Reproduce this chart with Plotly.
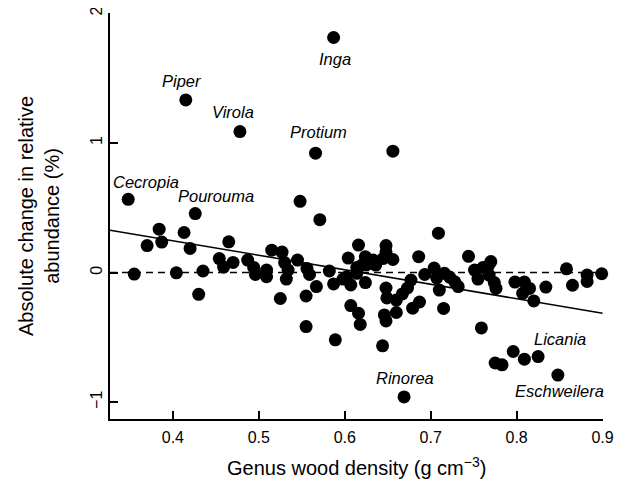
import plotly.graph_objects as go

# Genus wood density (g cm-3) and absolute change in relative abundance (%)
wood_density = [
    0.348, 0.355, 0.370, 0.384, 0.387, 0.404, 0.413, 0.415, 0.420, 0.426,
    0.430, 0.435, 0.454, 0.459, 0.465, 0.470, 0.478, 0.487, 0.494, 0.496,
    0.509, 0.509, 0.515, 0.527, 0.530, 0.534, 0.532, 0.525, 0.545, 0.548,
    0.556, 0.559, 0.555, 0.555, 0.567, 0.566, 0.571, 0.582, 0.587, 0.587,
    0.589, 0.598, 0.602, 0.607, 0.604, 0.607, 0.616, 0.616, 0.618, 0.614,
    0.614, 0.620, 0.624, 0.625, 0.633, 0.624, 0.636, 0.645, 0.648, 0.648,
    0.656, 0.648, 0.649, 0.646, 0.648, 0.644, 0.656, 0.660, 0.660, 0.667,
    0.673, 0.677, 0.679, 0.687, 0.669, 0.686, 0.693, 0.704, 0.707, 0.710,
    0.709, 0.716, 0.715, 0.722, 0.728, 0.732, 0.744, 0.751, 0.755, 0.761,
    0.770, 0.767, 0.768, 0.774, 0.776, 0.759, 0.775, 0.783, 0.796, 0.798,
    0.809, 0.807, 0.815, 0.820, 0.809, 0.825, 0.834, 0.848, 0.858, 0.865,
    0.882, 0.882, 0.899,
]
abundance_change = [
    0.565, -0.012, 0.208, 0.335, 0.235, -0.002, 0.309, 1.332, 0.186, 0.455,
    -0.168, 0.012, 0.108, 0.042, 0.237, 0.078, 1.088, 0.096, 0.040, -0.015,
    0.019, -0.032, 0.173, 0.158, 0.077, 0.019, -0.050, -0.200, 0.096, 0.550,
    0.032, -0.015, -0.181, -0.417, -0.108, 0.921, 0.408, 0.012, -0.088, 1.814,
    -0.519, -0.050, -0.035, -0.096, 0.112, -0.255, 0.212, -0.314, -0.400, 0.040,
    -0.006, 0.058, 0.122, 0.060, 0.096, -0.077, 0.058, 0.109, 0.208, 0.160,
    0.101, -0.119, -0.196, -0.327, -0.373, -0.565, 0.937, -0.212, -0.308, -0.165,
    -0.119, -0.058, -0.275, -0.227, -0.960, 0.123, -0.015, 0.035, -0.042, -0.135,
    0.304, -0.006, -0.277, -0.035, -0.071, -0.108, 0.125, 0.019, -0.050, 0.040,
    0.085, 0.050, -0.019, -0.077, -0.122, -0.427, -0.698, -0.712, -0.609, -0.073,
    -0.073, -0.160, -0.122, -0.219, -0.668, -0.648, -0.112, -0.791, 0.029, -0.098,
    -0.019, -0.069, -0.009,
]

# Fitted regression line (endpoints)
fit_x = [0.3268, 0.9]
fit_y = [0.327, -0.314]

# Genus labels and their positions
genus_names = ["Piper", "Virola", "Protium", "Cecropia", "Pourouma",
               "Inga", "Rinorea", "Licania", "Eschweilera"]
genus_label_x = [0.410, 0.470, 0.570, 0.369, 0.450, 0.589, 0.670, 0.850, 0.850]
genus_label_y = [1.481, 1.237, 1.088, 0.698, 0.588, 1.648, -0.814, -0.514, -0.917]

x_ticks = [0.4, 0.5, 0.6, 0.7, 0.8, 0.9]
x_tick_text = ["0.4", "0.5", "0.6", "0.7", "0.8", "0.9"]
y_ticks = [-1, 0, 1, 2]
y_tick_text = ["\u22121", "0", "1", "2"]

FONT = "Liberation Sans, Arial, Helvetica, sans-serif"

fig = go.Figure()

fig.add_trace(go.Scatter(
    x=fit_x, y=fit_y, mode="lines",
    line=dict(color="black", width=1.6),
    hoverinfo="skip", showlegend=False,
))

fig.add_trace(go.Scatter(
    x=wood_density, y=abundance_change, mode="markers",
    marker=dict(color="black", size=13, line=dict(width=0)),
    cliponaxis=False, showlegend=False,
))

fig.add_shape(type="line", xref="paper", x0=0, x1=1, yref="y", y0=0, y1=0,
              line=dict(color="black", width=1.5, dash="7px,5px"), layer="below")

for name, lx, ly in zip(genus_names, genus_label_x, genus_label_y):
    fig.add_annotation(x=lx, y=ly, xref="x", yref="y", text=name,
                       showarrow=False, xanchor="center", yanchor="middle",
                       font=dict(family=FONT, size=16.5, color="black", style="italic"))

# Axis titles
fig.add_annotation(xref="paper", yref="paper", x=-0.144, y=0.5,
                   text="Absolute change in relative<br>abundance (%)",
                   textangle=-90, showarrow=False, xanchor="center", yanchor="middle",
                   font=dict(family=FONT, size=20, color="black"))
fig.add_annotation(xref="paper", yref="paper", x=0.5, y=-0.118,
                   text="Genus wood density (g cm<sup>\u22123</sup>)",
                   showarrow=False, xanchor="center", yanchor="middle",
                   font=dict(family=FONT, size=20, color="black"))

fig.update_xaxes(
    range=[0.3268, 0.9005], tickvals=x_ticks, ticktext=x_tick_text,
    showline=True, linecolor="black", linewidth=1.5, mirror=False,
    ticks="inside", ticklen=8, tickwidth=1.5, tickcolor="black",
    showgrid=False, zeroline=False, ticklabelstandoff=3,
    ticklabeloverflow="allow", automargin=False,
    tickfont=dict(family=FONT, size=16, color="black"),
)
fig.update_yaxes(
    range=[-1.13, 2.003], tickvals=y_ticks, ticktext=y_tick_text,
    showline=True, linecolor="black", linewidth=1.5, mirror=False,
    ticks="inside", ticklen=8, tickwidth=1.5, tickcolor="black",
    showgrid=False, zeroline=False, tickangle=-90,
    ticklabeloverflow="allow", automargin=False,
    tickfont=dict(family=FONT, size=16, color="black"),
)

# The page body has a default 8px margin, so the figure is drawn 8px smaller
fig.update_layout(
    width=614, height=473,
    margin=dict(l=102, r=19, t=5, b=62, autoexpand=False),
    paper_bgcolor="white", plot_bgcolor="white",
    font=dict(family=FONT, color="black"),
    showlegend=False,
)

fig.write_html("out.html")
